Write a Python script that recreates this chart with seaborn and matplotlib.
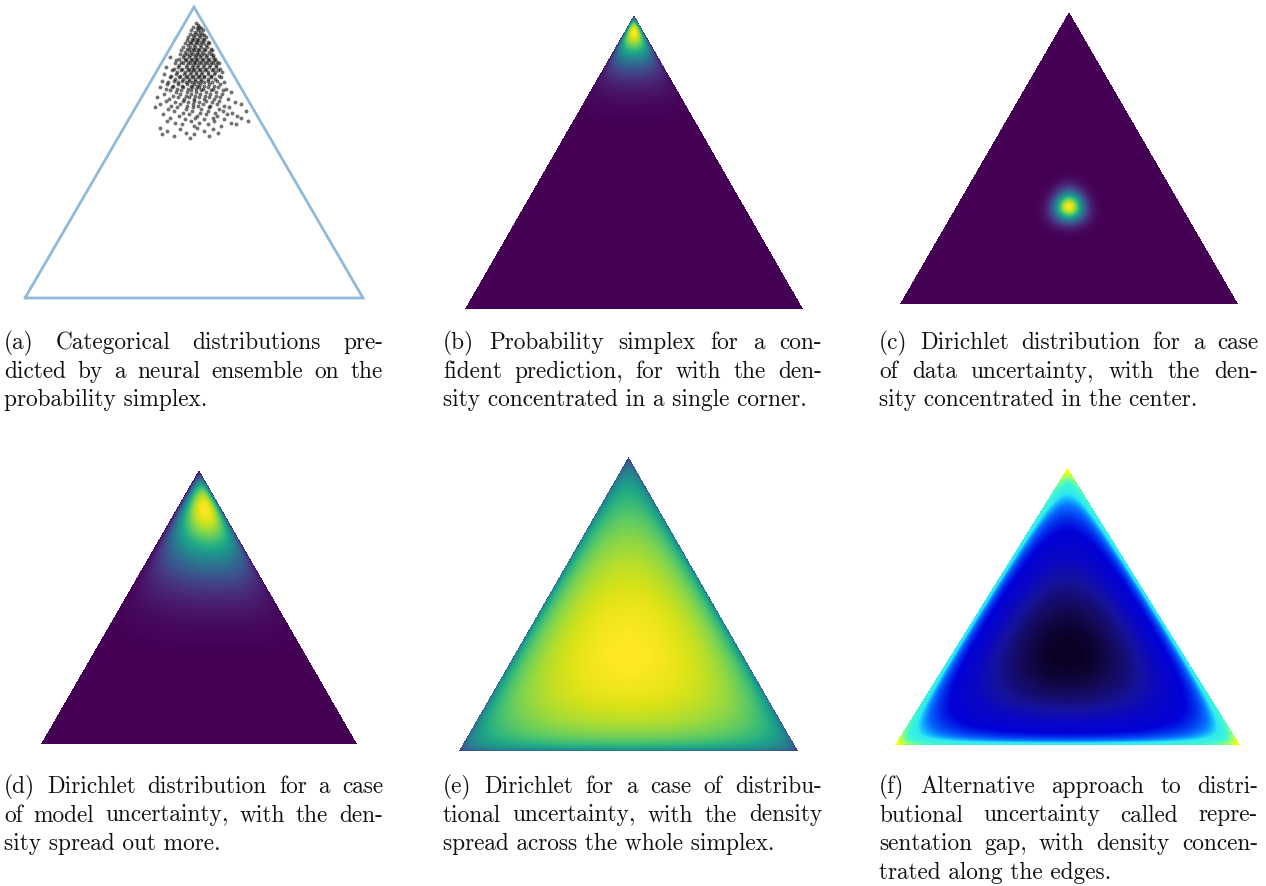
import numpy as np
import pandas as pd
import matplotlib
matplotlib.use("Agg")
import matplotlib.pyplot as plt
from matplotlib.colors import LinearSegmentedColormap
import seaborn as sns
from math import lgamma

sns.set_theme(style="white")
plt.rcParams["font.family"] = ["cmr10", "DejaVu Serif"]
plt.rcParams["axes.formatter.use_mathtext"] = True

FIG_W, FIG_H = 1266, 886
H_SIMPLEX = np.sqrt(3) / 2

# Ensemble member predictions on the simplex (cartesian x for each height y)
ens_rows = [
    (0.817, [0.505]), (0.812, [0.512]),
    (0.807, [0.498, 0.516]), (0.803, [0.508, 0.522]),
    (0.798, [0.492, 0.511, 0.527]), (0.792, [0.503, 0.519]),
    (0.787, [0.487, 0.506, 0.523]), (0.783, [0.497, 0.514, 0.531]),
    (0.778, [0.482, 0.501, 0.518, 0.536]), (0.772, [0.493, 0.510, 0.527]),
    (0.767, [0.478, 0.497, 0.513, 0.531]), (0.762, [0.488, 0.505, 0.522, 0.540]),
    (0.758, [0.473, 0.492, 0.509, 0.526, 0.545]), (0.752, [0.483, 0.500, 0.517, 0.535]),
    (0.747, [0.468, 0.488, 0.504, 0.521, 0.539]), (0.742, [0.479, 0.496, 0.512, 0.530, 0.549]),
    (0.738, [0.462, 0.484, 0.500, 0.516, 0.534, 0.553]), (0.732, [0.474, 0.492, 0.508, 0.525, 0.543]),
    (0.727, [0.458, 0.480, 0.497, 0.513, 0.530, 0.549]), (0.722, [0.470, 0.489, 0.505, 0.521, 0.539, 0.557]),
    (0.718, [0.430, 0.466, 0.486, 0.502, 0.518, 0.536, 0.555]),
    (0.712, [0.455, 0.476, 0.494, 0.510, 0.527, 0.545, 0.563]),
    (0.707, [0.448, 0.472, 0.491, 0.507, 0.524, 0.542, 0.560]),
    (0.702, [0.461, 0.482, 0.499, 0.515, 0.533, 0.551, 0.568]),
    (0.698, [0.444, 0.468, 0.487, 0.504, 0.521, 0.539, 0.557, 0.574]),
    (0.692, [0.457, 0.478, 0.496, 0.512, 0.530, 0.548, 0.566]),
    (0.687, [0.418, 0.453, 0.475, 0.493, 0.509, 0.527, 0.545, 0.564]),
    (0.682, [0.440, 0.464, 0.484, 0.501, 0.518, 0.536, 0.555, 0.578]),
    (0.678, [0.436, 0.461, 0.481, 0.498, 0.515, 0.533, 0.552, 0.571]),
    (0.672, [0.449, 0.472, 0.490, 0.507, 0.524, 0.542, 0.562, 0.583]),
    (0.667, [0.412, 0.446, 0.469, 0.488, 0.505, 0.522, 0.541, 0.560]),
    (0.662, [0.432, 0.458, 0.479, 0.496, 0.514, 0.531, 0.551, 0.574]),
    (0.658, [0.428, 0.456, 0.477, 0.495, 0.512, 0.530, 0.550, 0.580]),
    (0.652, [0.443, 0.467, 0.486, 0.503, 0.521, 0.540, 0.562]),
    (0.647, [0.405, 0.440, 0.465, 0.485, 0.502, 0.520, 0.541, 0.568]),
    (0.642, [0.424, 0.453, 0.476, 0.494, 0.511, 0.530, 0.553, 0.590]),
    (0.638, [0.420, 0.452, 0.478, 0.500, 0.519, 0.545, 0.576]),
    (0.632, [0.437, 0.465, 0.490, 0.509, 0.531, 0.560]),
    (0.627, [0.398, 0.434, 0.466, 0.494, 0.516, 0.542, 0.572]),
    (0.622, [0.416, 0.450, 0.481, 0.505, 0.528, 0.556, 0.595]),
    (0.618, [0.428, 0.462, 0.492, 0.520, 0.551, 0.585]),
    (0.612, [0.446, 0.478, 0.506, 0.535, 0.566, 0.610]),
    (0.607, [0.410, 0.458, 0.490, 0.517, 0.548, 0.582]),
    (0.602, [0.438, 0.475, 0.503, 0.532, 0.565]),
    (0.598, [0.392, 0.452, 0.486, 0.514, 0.545, 0.578]),
    (0.592, [0.426, 0.470, 0.500, 0.530, 0.560, 0.600]),
    (0.587, [0.418, 0.466, 0.499, 0.535, 0.573]),
    (0.582, [0.444, 0.483, 0.515, 0.552, 0.620]),
    (0.578, [0.400, 0.458, 0.497, 0.528, 0.568, 0.640]),
    (0.572, [0.432, 0.480, 0.512, 0.548, 0.590]),
    (0.567, [0.385, 0.450, 0.496, 0.545, 0.605]),
    (0.562, [0.422, 0.476, 0.520, 0.575]),
    (0.558, [0.440, 0.493, 0.540, 0.585, 0.655]),
    (0.552, [0.468, 0.517, 0.562, 0.612]),
    (0.547, [0.408, 0.484, 0.535, 0.598]),
    (0.542, [0.455, 0.510, 0.568, 0.628]),
    (0.537, [0.430, 0.503, 0.555, 0.640]),
    (0.532, [0.472, 0.530, 0.590]),
    (0.528, [0.420, 0.490, 0.560, 0.660]),
    (0.522, [0.445, 0.515, 0.610]),
    (0.517, [0.465, 0.540, 0.625]), (0.512, [0.500, 0.580]),
    (0.507, [0.400, 0.510]), (0.502, [0.460, 0.555]),
    (0.497, [0.420, 0.530]), (0.492, [0.475, 0.570]),
    (0.487, [0.405, 0.500]), (0.482, [0.440, 0.545]),
    (0.476, [0.488]),
]

# Dirichlet concentrations, ordered (top corner, left corner, right corner)
alpha_confident = [20.0, 1.6, 1.6]
alpha_data_unc = [60.0, 60.0, 60.0]
alpha_model_unc = [9.0, 1.51, 1.85]
alpha_distributional = [1.2, 1.2, 1.2]
alpha_repr_gap = [0.9, 0.9, 0.9]
repr_gap_floor = 0.008

captions = {
    "a": ["(a) Categorical distributions pre-",
          "dicted by a neural ensemble on the",
          "probability simplex."],
    "b": ["(b) Probability simplex for a con-",
          "fident prediction, for with the den-",
          "sity concentrated in a single corner."],
    "c": ["(c) Dirichlet distribution for a case",
          "of data uncertainty, with the den-",
          "sity concentrated in the center."],
    "d": ["(d) Dirichlet distribution for a case",
          "of model uncertainty, with the den-",
          "sity spread out more."],
    "e": ["(e) Dirichlet for a case of distribu-",
          "tional uncertainty, with the density",
          "spread across the whole simplex."],
    "f": ["(f) Alternative approach to distri-",
          "butional uncertainty called repre-",
          "sentation gap, with density concen-",
          "trated along the edges."],
}

# Panel boxes in pixels: left, top, right, bottom of each simplex
boxes = {
    "a": (25, 7, 363, 298),
    "b": (465, 15, 803, 309),
    "c": (900, 12, 1238, 304),
    "d": (41, 470, 357, 744),
    "e": (459, 457, 798, 751),
    "f": (895, 468, 1240, 745),
}
caption_cols = {"a": 4, "b": 443, "c": 879, "d": 4, "e": 443, "f": 879}
COL_WIDTH = 379
TOP_BASE, BOT_BASE, LEAD = 349, 793, 28.5

# Log-density colour ramp for the representation-gap panel
repr_cmap = LinearSegmentedColormap.from_list(
    "repr_gap",
    [(0.0, "#0b0026"), (0.024, "#140a5a"), (0.063, "#15129c"), (0.11, "#0a06c4"),
     (0.205, "#0000d8"), (0.268, "#0030ec"), (0.346, "#0a70ff"), (0.409, "#10b8ff"),
     (0.462, "#30e8f0"), (0.628, "#40f8d0"), (0.817, "#b0ff50"), (1.0, "#ffff00")])


def add_axes_px(fig, box):
    l, t, r, b = box
    return fig.add_axes([l / FIG_W, 1 - b / FIG_H, (r - l) / FIG_W, (b - t) / FIG_H])


def dirichlet_log_grid(alpha, nx, ny, floor=1e-4):
    xs = (np.arange(nx) + 0.5) / nx
    ys = H_SIMPLEX * (1 - (np.arange(ny) + 0.5) / ny)
    X, Y = np.meshgrid(xs, ys)
    p_top = Y / H_SIMPLEX
    p_right = X - 0.5 * p_top
    p_left = 1 - p_top - p_right
    P = np.stack([p_top, p_left, p_right])
    outside = (P < 0).any(axis=0)
    P = np.clip(P, floor, None)
    a = np.array(alpha)[:, None, None]
    logc = lgamma(sum(alpha)) - sum(lgamma(v) for v in alpha)
    logd = logc + ((a - 1) * np.log(P)).sum(axis=0)
    return logd, outside


fig = plt.figure(figsize=(FIG_W / 100, FIG_H / 100), dpi=100)

# (a) ensemble scatter on the simplex
ens = pd.DataFrame([(x, y) for y, xs in ens_rows for x in xs], columns=["x", "y"])
ax = add_axes_px(fig, boxes["a"])
corners = np.array([[0, 0], [1, 0], [0.5, H_SIMPLEX], [0, 0]])
ax.plot(corners[:, 0], corners[:, 1], color="#8fbbd9", lw=2.0, clip_on=False,
        solid_joinstyle="miter")
sns.scatterplot(data=ens, x="x", y="y", ax=ax, color="black", s=8, alpha=0.55,
                linewidth=0, legend=False)
ax.set_xlim(0, 1)
ax.set_ylim(0, H_SIMPLEX)
ax.set_axis_off()

# (b)-(f) Dirichlet densities
panels = [
    ("b", alpha_confident, "viridis", False, 1e-4),
    ("c", alpha_data_unc, "viridis", False, 1e-4),
    ("d", alpha_model_unc, "viridis", False, 1e-4),
    ("e", alpha_distributional, "viridis", False, 1e-4),
    ("f", alpha_repr_gap, repr_cmap, True, repr_gap_floor),
]
for key, alpha, cmap, use_log, floor in panels:
    l, t, r, b = boxes[key]
    nx, ny = int(r - l), int(b - t)
    logd, outside = dirichlet_log_grid(alpha, nx, ny, floor)
    vals = logd if use_log else np.exp(logd)
    inside = vals[~outside]
    vmin = inside.min() if use_log else 0
    ax = add_axes_px(fig, boxes[key])
    sns.heatmap(vals, mask=outside, cmap=cmap, cbar=False, xticklabels=False,
                yticklabels=False, ax=ax, rasterized=True, vmin=vmin, vmax=inside.max())
    ax.set_axis_off()

# Justified captions
renderer = fig.canvas.get_renderer()
FS = 16.8


def draw_caption(lines, left, base):
    for k, line in enumerate(lines):
        y = 1 - (base + k * LEAD) / FIG_H
        words = line.split(" ")
        if k == len(lines) - 1 or len(words) == 1:
            fig.text(left / FIG_W, y, line, fontsize=FS, va="baseline", ha="left",
                     color="#111111")
            continue
        texts = [fig.text(0, y, w, fontsize=FS, va="baseline", ha="left",
                          color="#111111") for w in words]
        widths = [t.get_window_extent(renderer).width for t in texts]
        gap = (COL_WIDTH - sum(widths)) / (len(words) - 1)
        x = left
        for t, w in zip(texts, widths):
            t.set_x(x / FIG_W)
            x += w + gap


for key in "abc":
    draw_caption(captions[key], caption_cols[key], TOP_BASE)
for key in "def":
    draw_caption(captions[key], caption_cols[key], BOT_BASE)

fig.savefig("out.png", dpi=100)
